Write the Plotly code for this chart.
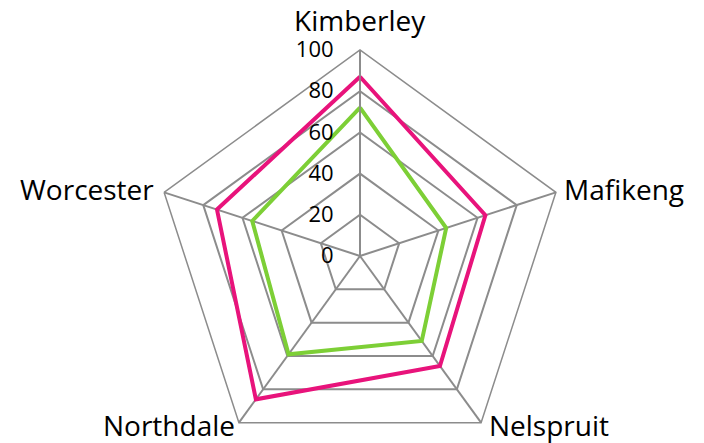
import math
import plotly.graph_objects as go

categories = ["Kimberley", "Mafikeng", "Nelspruit", "Northdale", "Worcester"]
series_pink = [87, 64, 66, 86, 73]
series_green = [72, 44, 51, 59, 55]
radial_ticks = [0, 20, 40, 60, 80, 100]

GRID = "#8C8C8C"
W, H = 704, 470
CX, CY, R = 360, 256, 206   # polar centre and radius in page pixels
LABEL_SIZE = 28

fig = go.Figure()
fig.add_trace(go.Scatterpolar(
    r=series_green + series_green[:1], theta=categories + categories[:1],
    mode="lines", line=dict(color="#7DCF36", width=4), name="Series 2",
))
fig.add_trace(go.Scatterpolar(
    r=series_pink + series_pink[:1], theta=categories + categories[:1],
    mode="lines", line=dict(color="#E8137B", width=4), name="Series 1",
))

# category labels placed just outside each polygon vertex
annotations = []
n = len(categories)
for i, cat in enumerate(categories):
    a = math.radians(90 - 360 * i / n)
    vx, vy = CX + R * math.cos(a), CY - R * math.sin(a)
    c, s = math.cos(a), math.sin(a)
    if abs(c) < 0.1:
        xa, x = "center", vx
    elif c > 0:
        xa, x = "left", vx + 6
    else:
        xa, x = "right", vx - (8 if s > 0 else 2)
    if s > 0.9:
        y = vy - 30
    elif s > 0:
        y = vy - 3
    else:
        y = vy + 2
    annotations.append(dict(
        text=cat, x=x / W, y=(H - y) / H, xref="paper", yref="paper",
        xanchor=xa, yanchor="middle", showarrow=False,
        font=dict(size=LABEL_SIZE, color="#000000"),
    ))

fig.update_layout(
    width=W, height=H,
    margin=dict(l=0, r=0, t=0, b=0),
    paper_bgcolor="white",
    showlegend=False,
    font=dict(family="Open Sans, Liberation Sans, sans-serif", color="#000000"),
    annotations=annotations,
    polar=dict(
        domain=dict(x=[(CX - R) / W, (CX + R) / W],
                    y=[(H - CY - R) / H, (H - CY + R) / H]),
        bgcolor="white",
        gridshape="linear",
        angularaxis=dict(
            direction="clockwise", rotation=90,
            showline=True, linecolor=GRID, linewidth=1.5,
            gridcolor=GRID, gridwidth=1.5,
            ticks="", showticklabels=False,
        ),
        radialaxis=dict(
            range=[0, 100], tickvals=radial_ticks,
            ticktext=[str(v) for v in radial_ticks],
            angle=90, side="counterclockwise", tickangle=90,
            showline=True, linecolor=GRID, linewidth=1.5,
            gridcolor=GRID, gridwidth=1.5,
            ticks="outside", ticklen=18, tickcolor="rgba(0,0,0,0)",
            tickfont=dict(size=22),
        ),
    ),
)

fig.write_html(
    "out.html",
    config={"displayModeBar": False},
    post_script="document.body.style.margin='0';document.body.style.overflow='hidden';",
)
